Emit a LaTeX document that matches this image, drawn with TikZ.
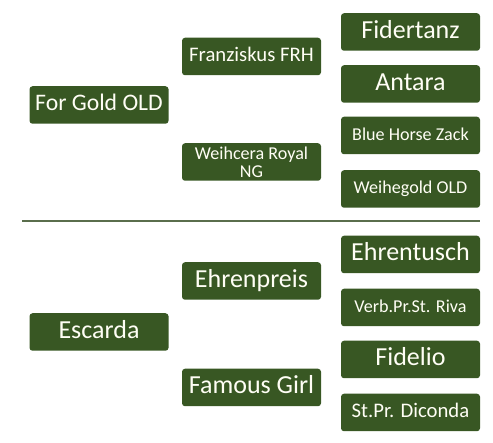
\documentclass[tikz,border=0pt]{standalone}
\usepackage{fontspec}
\setmainfont{Carlito}
\usepackage{xcolor}
\definecolor{horsegreen}{HTML}{385723}
\definecolor{rulegreen}{HTML}{5A6E4C}
\usepackage{tikz}
\usetikzlibrary{positioning}

\begin{document}
\begin{tikzpicture}[x=1pt,y=-1pt]
 \tikzset{block/.style={rectangle, minimum width=139pt, minimum height=37.5pt, inner sep=0pt, rounded corners=3pt, fill=horsegreen, text=white!96!yellow, align=center},
  big/.style={font=\fontsize{26}{28}\selectfont, text height=19.5pt, text depth=6.5pt},
  large/.style={font=\fontsize{23.7}{26}\selectfont, text height=17.8pt, text depth=5.9pt},
  mid/.style={font=\fontsize{20.7}{23}\selectfont, text height=15.5pt, text depth=5.2pt},
  small/.style={font=\fontsize{18.1}{18.4}\selectfont, text height=13.6pt, text depth=4.5pt}};
 \useasboundingbox (0,0) rectangle (493,443);
  % upper pedigree
  \node[block, large] (horse0) at (99,105) {For Gold OLD};
  \node[block, mid] (horse1) at (251.5,56.5) {Franziskus FRH};
  \node[block, font=\fontsize{18.1}{18.4}\selectfont] (horse2) at (251.5,162) {Weihcera Royal\\NG};
  \node[block, big] (horse3) at (410.5,32) {Fidertanz};
  \node[block, big] (horse4) at (410.5,84) {Antara};
  \node[block, small] (horse5) at (410.5,135.5) {Blue Horse Zack};
  \node[block, small] (horse6) at (410.5,189) {Weihegold OLD};
  % separator
  \coordinate (sepL) at (22,221);
  \coordinate (sepR) at (480,221);
  \draw[rulegreen, line width=2pt] (sepL) -- (sepR);
  % lower pedigree
  \node[block, big] (horse7) at (99,332) {Escarda};
  \node[block, big] (horse8) at (251.5,281) {Ehrenpreis};
  \node[block, big] (horse9) at (251.5,387.5) {Famous Girl};
  \node[block, big] (horse10) at (410.5,254.5) {Ehrentusch};
  \node[block, small] (horse11) at (410.5,307.5) {Verb.Pr.St. Riva};
  \node[block, big] (horse12) at (410.5,359.5) {Fidelio};
  \node[block, mid] (horse13) at (410.5,412.5) {St.Pr. Diconda};
\end{tikzpicture}
\end{document}
